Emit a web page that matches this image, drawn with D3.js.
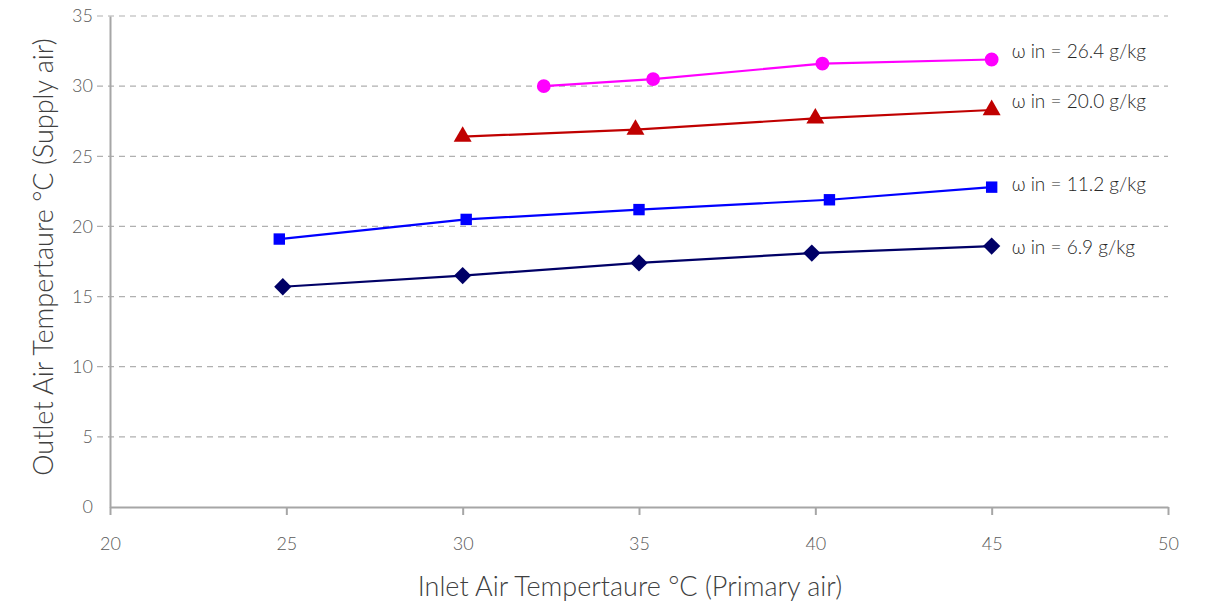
<html>
  <head>
    <script src="https://d3js.org/d3.v7.min.js"></script>
    <style type="text/css">
      body { margin: 0; background: #fff; }
      text { font-family: Lato, "Open Sans", sans-serif; font-weight: 300; }
    </style>
  </head>
  <body>
    <svg id="chart" width="1220" height="605"></svg>
    <script>
      // data
      var xTicks = [20, 25, 30, 35, 40, 45, 50];
      var yTicks = [0, 5, 10, 15, 20, 25, 30, 35];

      var s69x  = [24.9, 30.0, 35.0, 39.9, 45.0];
      var s69y  = [15.7, 16.5, 17.4, 18.1, 18.6];
      var s112x = [24.8, 30.1, 35.0, 40.4, 45.0];
      var s112y = [19.1, 20.5, 21.2, 21.9, 22.8];
      var s200x = [30.0, 34.9, 40.0, 45.0];
      var s200y = [26.4, 26.9, 27.7, 28.3];
      var s264x = [32.3, 35.4, 40.2, 45.0];
      var s264y = [30.0, 30.5, 31.6, 31.9];

      var seriesLabels = ["ω in = 6.9 g/kg", "ω in = 11.2 g/kg", "ω in = 20.0 g/kg", "ω in = 26.4 g/kg"];

      var series = [
        { xs: s69x,  ys: s69y,  color: "#000066", symbol: d3.symbolDiamond2, size: 190, label: seriesLabels[0], dy: 3 },
        { xs: s112x, ys: s112y, color: "#0000ff", symbol: d3.symbolSquare,   size: 130, label: seriesLabels[1], dy: -1 },
        { xs: s200x, ys: s200y, color: "#c00000", symbol: d3.symbolTriangle, size: 140, label: seriesLabels[2], dy: -7 },
        { xs: s264x, ys: s264y, color: "#ff00ff", symbol: d3.symbolCircle,   size: 150, label: seriesLabels[3], dy: -6 }
      ];

      var svg = d3.select("#chart");
      var x = d3.scaleLinear().domain([20, 50]).range([110, 1168]);
      var y = d3.scaleLinear().domain([0, 35]).range([507, 16]);

      // grid lines
      svg.append("g")
        .selectAll("line")
        .data(yTicks.filter(function(d) { return d > 0; }))
        .enter().append("line")
        .attr("x1", 97).attr("x2", 1168)
        .attr("y1", function(d) { return y(d); })
        .attr("y2", function(d) { return y(d); })
        .attr("stroke", "#b0b0b0")
        .attr("stroke-width", 1.2)
        .attr("stroke-dasharray", "6,5");

      // y axis
      var yAxis = svg.append("g")
        .attr("transform", "translate(110,0)")
        .call(d3.axisLeft(y).tickValues(yTicks).tickSize(0).tickPadding(17));
      yAxis.select(".domain").attr("stroke", "#a6a6a6").attr("stroke-width", 2);
      yAxis.selectAll("text").attr("font-size", 18).attr("fill", "#595959");

      // x axis
      var xAxis = svg.append("g")
        .attr("transform", "translate(0,507)")
        .call(d3.axisBottom(x).tickValues(xTicks).tickSize(8).tickSizeOuter(0).tickPadding(22));
      xAxis.select(".domain").attr("stroke", "#a6a6a6").attr("stroke-width", 2);
      xAxis.selectAll(".tick line").attr("stroke", "#a6a6a6").attr("stroke-width", 2);
      xAxis.selectAll("text").attr("font-size", 18).attr("fill", "#595959");

      // axis titles
      svg.append("text")
        .attr("x", 630).attr("y", 596)
        .attr("text-anchor", "middle")
        .attr("font-size", 27)
        .attr("fill", "#404040")
        .text("Inlet Air Tempertaure °C (Primary air)");

      svg.append("text")
        .attr("transform", "translate(53,257) rotate(-90)")
        .attr("text-anchor", "middle")
        .attr("font-size", 27)
        .attr("fill", "#404040")
        .text("Outlet Air Tempertaure °C (Supply air)");

      var line = d3.line()
        .x(function(d) { return x(d[0]); })
        .y(function(d) { return y(d[1]); });

      series.forEach(function(s) {
        var pts = s.xs.map(function(v, i) { return [v, s.ys[i]]; });
        var g = svg.append("g");
        g.append("path")
          .datum(pts)
          .attr("d", line)
          .attr("fill", "none")
          .attr("stroke", s.color)
          .attr("stroke-width", 2.2);
        g.selectAll("path.pt")
          .data(pts)
          .enter().append("path")
          .attr("class", "pt")
          .attr("d", d3.symbol().type(s.symbol).size(s.size))
          .attr("transform", function(d) { return "translate(" + x(d[0]) + "," + y(d[1]) + ")"; })
          .attr("fill", s.color);
        var last = pts[pts.length - 1];
        g.append("text")
          .attr("x", x(last[0]) + 20)
          .attr("y", y(last[1]) + s.dy)
          .attr("dominant-baseline", "middle")
          .attr("font-size", 19)
          .attr("fill", "#262626")
          .text(s.label);
      });
    </script>
  </body>
</html>
